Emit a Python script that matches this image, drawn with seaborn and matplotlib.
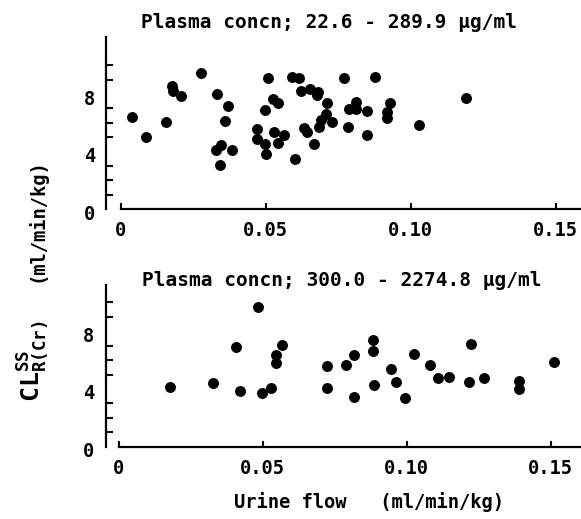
import numpy as np
import pandas as pd
import matplotlib
matplotlib.use("Agg")
import matplotlib.pyplot as plt
import matplotlib.transforms as mtransforms
import seaborn as sns
from matplotlib.ticker import FixedLocator

# ---- data ----
low_flow = [0.0037, 0.0086, 0.0155, 0.0175, 0.0180, 0.0206, 0.0278, 0.0332, 0.0370, 0.0361,
            0.0347, 0.0330, 0.0385, 0.0341, 0.0499, 0.0506, 0.0470, 0.0468, 0.0499, 0.0500,
            0.0525, 0.0543, 0.0529, 0.0563, 0.0543, 0.0602, 0.0589, 0.0614, 0.0623, 0.0652,
            0.0680, 0.0675, 0.0631, 0.0642, 0.0667, 0.0711, 0.0709, 0.0690, 0.0684, 0.0730,
            0.0770, 0.0787, 0.0810, 0.0810, 0.0784, 0.0849, 0.0849, 0.0878, 0.0930, 0.0918,
            0.0918, 0.1028, 0.1190]
low_cl = [6.40, 5.00, 6.07, 8.55, 8.20, 7.86, 9.47, 7.98, 7.15, 6.12,
          4.46, 4.12, 4.12, 3.08, 6.87, 9.10, 5.56, 4.88, 4.50, 3.82,
          7.68, 7.38, 5.33, 5.15, 4.57, 3.50, 9.17, 9.13, 8.19, 8.37,
          8.14, 7.91, 5.61, 5.33, 4.53, 7.40, 6.64, 6.18, 5.72, 6.07,
          9.10, 6.94, 7.45, 6.99, 5.72, 6.83, 5.15, 9.22, 7.38, 6.76,
          6.34, 5.84, 7.72]

high_flow = [0.0178, 0.0328, 0.0406, 0.0422, 0.0485, 0.0499, 0.0529, 0.0546, 0.0546, 0.0568,
             0.0724, 0.0722, 0.0790, 0.0817, 0.0817, 0.0884, 0.0882, 0.0886, 0.0944, 0.0963,
             0.0994, 0.1026, 0.1081, 0.1107, 0.1148, 0.1217, 0.1223, 0.1268, 0.1390, 0.1390,
             0.1511]
high_cl = [4.12, 4.40, 6.94, 3.87, 9.68, 3.75, 4.10, 6.37, 5.79, 7.01,
           5.60, 4.10, 5.63, 6.37, 3.43, 7.41, 6.65, 4.24, 5.40, 4.45,
           3.40, 6.44, 5.63, 4.75, 4.86, 4.51, 7.13, 4.75, 4.58, 4.00,
           5.86]

titles = ["Plasma concn; 22.6 - 289.9 \u03bcg/ml", "Plasma concn; 300.0 - 2274.8 \u03bcg/ml"]
x_ticks = [0, 0.05, 0.10, 0.15]
x_ticklabels = ["0", "0.05", "0.10", "0.15"]
y_ticks = [0, 4, 8]
y_minor = [1, 2, 3, 4, 5, 6, 7, 8, 9, 10]
xlabel = "Urine flow   (ml/min/kg)"
ylabel_unit = "(ml/min/kg)"
ylabel_sym = r"$\mathrm{CL}_{\mathrm{R(Cr)}}^{\mathrm{SS}}$"

sns.set_style("ticks")
MONO = "DejaVu Sans Mono"
plt.rcParams["font.family"] = [MONO, "DejaVu Sans"]
plt.rcParams["font.weight"] = "bold"
plt.rcParams["text.color"] = "black"
plt.rcParams["xtick.color"] = "black"
plt.rcParams["ytick.color"] = "black"
plt.rcParams["mathtext.fontset"] = "custom"
plt.rcParams["mathtext.rm"] = "DejaVu Sans Mono:bold"
plt.rcParams["mathtext.it"] = "DejaVu Sans Mono:bold"
plt.rcParams["mathtext.bf"] = "DejaVu Sans Mono:bold"

FS = 13.5
W, H = 581, 519
fig = plt.figure(figsize=(W / 100, H / 100), dpi=100)
fig.patch.set_facecolor("white")

ax1 = fig.add_axes([106 / W, 1 - 209 / H, 475 / W, (209 - 36.7) / H])
ax2 = fig.add_axes([105.7 / W, 1 - 446.7 / H, 475.3 / W, (446.7 - 285) / H])

df1 = pd.DataFrame({"flow": low_flow, "cl": low_cl})
df2 = pd.DataFrame({"flow": high_flow, "cl": high_cl})

specs = [(ax1, df1, (-0.0051, 0.1587), (0, 12.0)),
         (ax2, df2, (-0.0045, 0.1605), (0, 11.2))]

ydown = mtransforms.ScaledTranslation(0, -3 / 100, fig.dpi_scale_trans)

for ax, df, xl, yl in specs:
    sns.scatterplot(data=df, x="flow", y="cl", ax=ax, color="black", s=62,
                    edgecolor="black", linewidth=0, legend=False)
    ax.set_xlim(*xl)
    ax.set_ylim(*yl)
    ax.set_facecolor("white")
    for s in ["top", "right"]:
        ax.spines[s].set_visible(False)
    for s in ["left", "bottom"]:
        ax.spines[s].set_linewidth(1.6)
        ax.spines[s].set_color("black")
    ax.spines["bottom"].set_bounds(0, xl[1])
    ax.set_xticks(x_ticks)
    ax.set_xticklabels(x_ticklabels, fontsize=FS, fontweight="bold", family=MONO)
    ax.tick_params(axis="x", direction="in", length=4, width=1.5, pad=9)
    ax.set_yticks(y_ticks)
    ax.set_yticklabels([str(v) for v in y_ticks], fontsize=FS, fontweight="bold", family=MONO)
    ax.tick_params(axis="y", which="major", length=0, pad=8)
    ax.yaxis.set_minor_locator(FixedLocator(y_minor))
    ax.tick_params(axis="y", which="minor", direction="in", length=5, width=1.5)
    for lab in ax.get_yticklabels():
        lab.set_transform(lab.get_transform() + ydown)
    ax.set_xlabel("")
    ax.set_ylabel("")

fig.text(329 / W, 1 - 23 / H, titles[0], fontsize=14, fontweight="bold", family=MONO,
         ha="center", va="center")
fig.text(342 / W, 1 - 280 / H, titles[1], fontsize=14, fontweight="bold", family=MONO,
         ha="center", va="center")
fig.text(369 / W, 1 - 501.7 / H, xlabel, fontsize=FS, fontweight="bold", family=MONO,
         ha="center", va="center")
fig.text(36 / W, 1 - 220 / H, ylabel_unit, fontsize=FS, fontweight="bold", family=MONO,
         rotation=90, ha="center", va="center")
fig.text(34 / W, 1 - 361 / H, ylabel_sym, fontsize=18, rotation=90, ha="center", va="center")

fig.savefig("out.png", dpi=100, facecolor="white")
